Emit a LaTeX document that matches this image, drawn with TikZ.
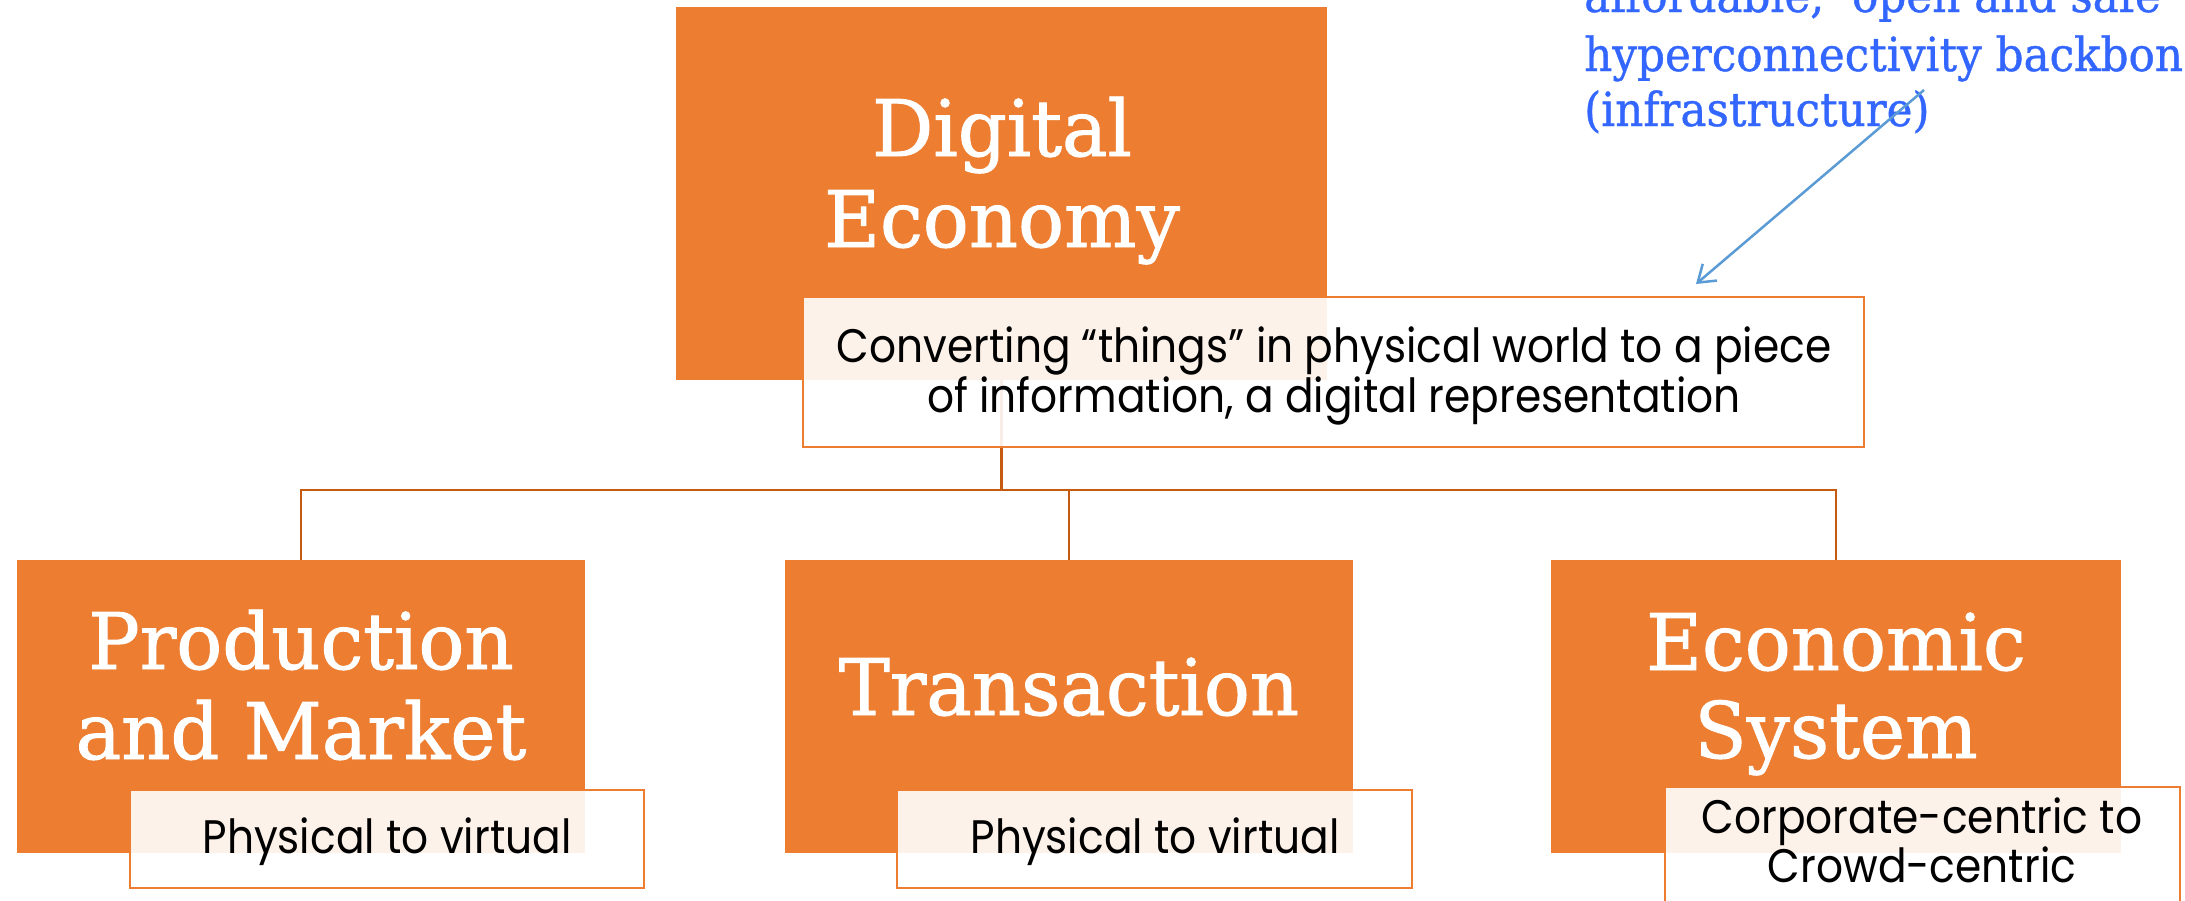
\documentclass[tikz,border=0pt]{standalone}
\usepackage{fontspec}
\usetikzlibrary{arrows.meta}

% Slab serif for the headings and the note, geometric sans for the captions
\newfontfamily\slabfont[FakeStretch=0.98, FakeBold=1.2]{DejaVu Serif}
\newfontfamily\notefont[FakeStretch=0.93, FakeBold=0.8]{DejaVu Serif}
\newfontfamily\geofont[FakeStretch=0.9]{Poppins}

\definecolor{boxorange}{HTML}{ED7D31}
\definecolor{linkorange}{HTML}{C55A11}
\definecolor{noteblue}{HTML}{3366FF}
\definecolor{arrowblue}{HTML}{5B9BD5}

\begin{document}
\begin{tikzpicture}[x=1pt, y=-1pt,
  mainbox/.style={fill=boxorange, draw=none, inner sep=0pt, outer sep=0pt},
  capbox/.style={fill=white, fill opacity=0.9, draw=boxorange, line width=2.5pt,
                 inner sep=0pt, outer sep=0pt},
  headtext/.style={text=white, inner sep=0pt, anchor=base,
                   font=\slabfont\fontsize{78}{90}\selectfont},
  captext/.style={text=black, inner sep=0pt, anchor=base,
                  font=\geofont\fontsize{47}{50}\selectfont},
  notetext/.style={text=noteblue, inner sep=0pt, anchor=base west,
                   font=\notefont\fontsize{47}{55}\selectfont},
  link/.style={draw=linkorange, line width=2.5pt},
  pointer/.style={draw=arrowblue, line width=2.5pt,
                  -{Straight Barb[length=16pt, width=22pt, line width=2.5pt]}}
]
\useasboundingbox (0,0) rectangle (2185,900);
\clip (0,0) rectangle (2185,900);

% bus of the hierarchy
\coordinate (bus) at (0,490);

% main boxes
\node[mainbox, minimum width=651pt, minimum height=373pt] (de) at (1001.5,193.5) {};
\node[mainbox, minimum width=568pt, minimum height=293pt] (pm) at (301,706.5) {};
\node[mainbox, minimum width=568pt, minimum height=293pt] (tr) at (1069,706.5) {};
\node[mainbox, minimum width=570pt, minimum height=293pt] (es) at (1836,706.5) {};

% connectors (below the caption boxes)
\draw[link] (de.south) -- (de.south |- bus) -| (pm.north);
\draw[link] (de.south |- bus) -| (tr.north);
\draw[link] (de.south |- bus) -| (es.north);

% headings
\node[headtext] (de-a) at (1002,156) {Digital};
\node[headtext] (de-b) at (1002,247) {Economy};
\node[headtext] (pm-a) at (301,669) {Production};
\node[headtext] (pm-b) at (301,759) {and Market};
\node[headtext] (tr-a) at (1069,715) {Transaction};
\node[headtext] (es-a) at (1836,670) {Economic};
\node[headtext] (es-b) at (1836,758) {System};

% caption boxes
\node[capbox, minimum width=1061pt, minimum height=150pt] (de-c) at (1333.5,372) {};
\node[capbox, minimum width=514pt, minimum height=98pt] (pm-c) at (387,839) {};
\node[capbox, minimum width=515pt, minimum height=98pt] (tr-c) at (1154.5,839) {};
\node[capbox, minimum width=515pt, minimum height=146pt] (es-c) at (1922.5,860) {};

% captions
\node[captext] (de-c1) at (1334,362) {Converting “things” in physical world to a piece};
\node[captext] (de-c2) at (1334,412) {of information, a digital representation};
\node[captext] (pm-c1) at (387,853) {Physical to virtual};
\node[captext] (tr-c1) at (1155,853) {Physical to virtual};
\node[captext] (es-c1) at (1922,833) {Corporate-centric to};
\node[captext] (es-c2) at (1922,882) {Crowd-centric};

% note on the infrastructure
\node[notetext] (note-a) at (1584,12) {affordable, ‘open and safe};
\node[notetext] (note-b) at (1584,71) {hyperconnectivity backbone};
\node[notetext] (note-c) at (1584,126) {(infrastructure)};
\coordinate (ptr-from) at (1924,90);
\coordinate (ptr-to) at (1696,284);
\draw[pointer] (ptr-from) -- (ptr-to);
\end{tikzpicture}
\end{document}
